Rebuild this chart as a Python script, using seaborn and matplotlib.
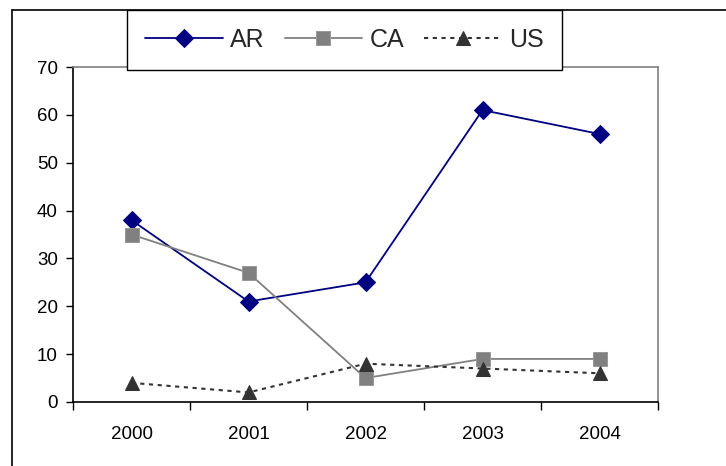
import matplotlib
matplotlib.use("Agg")
import matplotlib.pyplot as plt
from matplotlib.lines import Line2D
import seaborn as sns
import pandas as pd

years = ["2000", "2001", "2002", "2003", "2004"]
ar = [38, 21, 25, 61, 56]
ca = [35, 27, 5, 9, 9]
us = [4, 2, 8, 7, 6]
yticks = [0, 10, 20, 30, 40, 50, 60, 70]

sns.set_theme(style="white")
plt.rcParams["font.family"] = ["Liberation Sans", "DejaVu Sans"]

W, H = 726, 466
fig = plt.figure(figsize=(W / 100, H / 100), dpi=100)
ax = fig.add_axes([73 / W, 1 - 402 / H, (658 - 73) / W, (402 - 67) / H])

idx = list(range(len(years)))
df = pd.DataFrame({"idx": idx, "AR": ar, "CA": ca, "US": us})

sns.lineplot(data=df, x="idx", y="AR", ax=ax, color="#000080", marker="D",
             markersize=9, markeredgecolor="#000080", linewidth=1.3, label="AR", sort=False)
sns.lineplot(data=df, x="idx", y="CA", ax=ax, color="#808080", marker="s",
             markersize=10, markeredgecolor="#999999", linewidth=1.3, label="CA", sort=False)
sns.lineplot(data=df, x="idx", y="US", ax=ax, color="#333333", marker="^",
             markersize=10, markeredgecolor="#333333", linewidth=1.5,
             linestyle=(0, (2, 2.2)), label="US", sort=False)

ax.set_xlim(-0.5, len(years) - 0.5)
ax.set_ylim(0, 70)
ax.set_xticks(idx)
ax.set_xticklabels(years)
ax.set_xticks([i - 0.5 for i in range(len(years) + 1)], minor=True)
ax.set_yticks(yticks)
ax.set_yticklabels([str(v) for v in yticks])
ax.set_xlabel("")
ax.set_ylabel("")

ax.tick_params(axis="x", which="major", length=0, pad=17, labelsize=13.5, colors="black")
ax.tick_params(axis="x", which="minor", length=6, width=1, color="black", direction="out", bottom=True)
ax.tick_params(axis="y", which="major", length=5, width=1, color="black", direction="out",
               left=True, pad=6, labelsize=13.5, labelcolor="black")

for s in ["left", "bottom"]:
    ax.spines[s].set_color("black")
    ax.spines[s].set_linewidth(1.2)
for s in ["top", "right"]:
    ax.spines[s].set_color("#808080")
    ax.spines[s].set_linewidth(1.2)
ax.grid(False)

ax.get_legend().remove()
handles, labels = ax.get_legend_handles_labels()
leg = fig.legend(handles, labels, ncol=3, loc="upper center",
                 bbox_to_anchor=((127 + 562) / 2 / W, 1 - 10 / H),
                 frameon=True, fancybox=False, edgecolor="black", framealpha=1,
                 fontsize=18, handlelength=3.1, handletextpad=0.3, columnspacing=0.8,
                 borderpad=0.72, borderaxespad=0)
leg.get_frame().set_linewidth(1.0)

# outer chart-area frame
fig.add_artist(Line2D([12 / W, 1.0], [1 - 10 / H, 1 - 10 / H], transform=fig.transFigure,
                      color="black", linewidth=1.2))
fig.add_artist(Line2D([12 / W, 12 / W], [0, 1 - 10 / H], transform=fig.transFigure,
                      color="black", linewidth=1.2))
leg.set_zorder(10)

fig.savefig("out.png", dpi=100)
